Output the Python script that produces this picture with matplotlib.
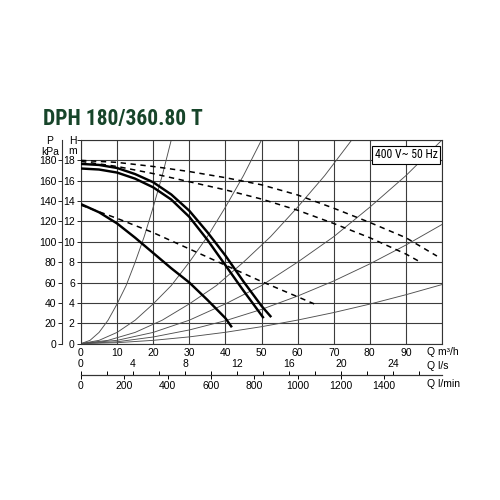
import matplotlib
matplotlib.use("Agg")
import matplotlib.pyplot as plt
from matplotlib import font_manager as fm

plt.rcParams['font.family'] = ['Liberation Sans', 'DejaVu Sans']

# ---- data (Q in m3/h, H in m) ----
# system (resistance) curves, thin
sysA_q = [0, 2.5, 5, 7.5, 10, 12.5, 15, 17.5, 20, 22.5, 25]
sysA_h = [0, 0.32, 1.1, 2.3, 3.9, 5.7, 8.0, 10.5, 13.4, 16.5, 20]
sysB_q = [0, 5, 10, 15, 20, 25, 30, 35, 40, 45, 50]
sysB_h = [0, 0.32, 1.1, 2.3, 3.9, 5.7, 8.0, 10.5, 13.4, 16.5, 20]
sysC_q = [0, 7.5, 15, 22.5, 30, 37.5, 45, 52.5, 60, 67.5, 75]
sysC_h = [0, 0.32, 1.1, 2.3, 3.9, 5.7, 8.0, 10.5, 13.4, 16.5, 20]
sysD_q = [0, 10, 20, 30, 40, 50, 60, 70, 80, 90, 100]
sysD_h = [0, 0.32, 1.1, 2.3, 3.9, 5.7, 8.0, 10.5, 13.4, 16.5, 20]
sysE_q = [0, 10, 20, 30, 40, 50, 60, 70, 80, 90, 100]
sysE_h = [0, 0.18, 0.65, 1.34, 2.25, 3.36, 4.67, 6.15, 7.83, 9.68, 11.7]
sysF_q = [0, 10, 20, 30, 40, 50, 60, 70, 80, 90, 100]
sysF_h = [0, 0.09, 0.32, 0.66, 1.11, 1.66, 2.31, 3.05, 3.88, 4.80, 5.8]

# pump curves, thick solid
pump1_q = [0, 5, 10, 15, 20, 25, 30, 35, 40, 45, 50, 52.7]
pump1_h = [17.65, 17.55, 17.25, 16.65, 15.85, 14.65, 13.05, 10.95, 8.65, 6.1, 3.7, 2.6]
pump2_q = [0, 5, 10, 15, 20, 25, 30, 35, 40, 45, 50.6]
pump2_h = [17.2, 17.1, 16.8, 16.2, 15.35, 14.15, 12.45, 10.2, 7.7, 5.2, 2.5]
pump3_q = [0, 5, 10, 15, 20, 25, 30, 35, 40, 41.8]
pump3_h = [13.7, 12.9, 11.8, 10.4, 8.9, 7.4, 6.0, 4.3, 2.5, 1.6]

# dashed curves
dash1_q = [0, 10, 20, 30, 40, 50, 60, 70, 80, 90, 98.6]
dash1_h = [18.0, 17.8, 17.4, 16.9, 16.3, 15.6, 14.6, 13.3, 11.9, 10.4, 8.6]
dash2_q = [0, 10, 20, 30, 40, 50, 60, 70, 80, 90, 93.8]
dash2_h = [17.9, 17.4, 16.7, 15.9, 15.1, 14.2, 13.1, 11.8, 10.4, 8.8, 8.05]
dash3_q = [0, 10, 20, 30, 40, 50, 60, 64.6]
dash3_h = [13.6, 12.3, 10.9, 9.3, 7.7, 6.1, 4.6, 3.9]

q_ticks = list(range(0, 101, 10))
q_labels = [str(v) for v in range(0, 100, 10)] + ['']
h_ticks = list(range(0, 21, 2))
h_labels = [str(v) for v in range(0, 20, 2)] + ['']
p_ticks = list(range(0, 181, 20))
ls_ticks = list(range(0, 25, 4))
ls_minor = list(range(2, 27, 4))
lmin_ticks = list(range(0, 1401, 200))

title = 'DPH 180/360.80 T'
legend_text = '400 V~ 50 Hz'


def pick_font(bold):
    """Pick a condensed/narrow font file if one is installed."""
    best = None
    best_score = -1
    for f in fm.fontManager.ttflist:
        nm = f.name.lower()
        fn = f.fname.lower()
        narrow = ('narrow' in nm or 'condensed' in nm or 'narrow' in fn
                  or 'condensed' in fn or f.stretch in ('condensed', 'semi-condensed'))
        if not narrow or 'italic' in fn or 'oblique' in fn or f.style != 'normal':
            continue
        w = f.weight if isinstance(f.weight, int) else (700 if 'bold' in str(f.weight) else 400)
        isbold = w >= 600 or 'bold' in fn
        if bold != isbold:
            continue
        if 'extrabold' in fn or 'black' in fn or 'light' in fn or 'thin' in fn:
            continue
        score = 1
        if 'liberation' in nm:
            score = 5
        elif 'roboto' in nm:
            score = 4
        elif 'open sans' in nm:
            score = 3
        elif 'dejavu' in nm:
            score = 2
        if score > best_score:
            best, best_score = f.fname, score
    return best


title_font = pick_font(True)
leg_font = pick_font(False)

FS = 7.5
fig = plt.figure(figsize=(5, 5), dpi=100)
ax = fig.add_axes([81 / 500, 1 - 343.6 / 500, 361 / 500, 203.6 / 500])
ax.set_xlim(0, 100)
ax.set_ylim(0, 20)
ax.set_xticks(q_ticks)
ax.set_xticklabels(q_labels)
ax.set_yticks(h_ticks)
ax.set_yticklabels(h_labels)
ax.grid(True, color='#3c3c3c', lw=0.8, zorder=0)
ax.set_axisbelow(True)
ax.tick_params(axis='x', length=0, pad=3, labelsize=FS)
ax.tick_params(axis='y', length=3, width=0.6, pad=1.5, labelsize=FS)
for s in ax.spines.values():
    s.set_linewidth(0.8)
    s.set_color('#333333')

thin = dict(color='#505050', lw=0.65, zorder=2)
for qs, hs in [(sysA_q, sysA_h), (sysB_q, sysB_h), (sysC_q, sysC_h),
               (sysD_q, sysD_h), (sysE_q, sysE_h), (sysF_q, sysF_h)]:
    ax.plot(qs, hs, **thin)

dash = dict(color='black', lw=1.1, ls=(0, (3.5, 3)), zorder=3)
for qs, hs in [(dash1_q, dash1_h), (dash2_q, dash2_h), (dash3_q, dash3_h)]:
    ax.plot(qs, hs, **dash)

thick = dict(color='black', lw=1.75, zorder=4, solid_capstyle='butt')
for qs, hs in [(pump1_q, pump1_h), (pump2_q, pump2_h), (pump3_q, pump3_h)]:
    ax.plot(qs, hs, **thick)

# P axis (kPa)
pax = ax.secondary_yaxis(-0.053, functions=(lambda h: h * 10, lambda p: p / 10))
pax.set_yticks(p_ticks)
pax.tick_params(axis='y', length=3, width=0.6, pad=1, labelsize=FS)
for s in pax.spines.values():
    s.set_linewidth(0.8)
    s.set_color('#333333')

# l/s axis (labels above line)
lsax = ax.secondary_xaxis(-0.154, functions=(lambda q: q / 3.6, lambda s: s * 3.6))
lsax.set_xticks(ls_ticks)
lsax.set_xticks(ls_minor, minor=True)
lsax.xaxis.set_ticks_position('top')
lsax.tick_params(axis='x', which='both', top=True, bottom=False, labeltop=True,
                 labelbottom=False, direction='out', length=3, width=0.7,
                 pad=1.0, labelsize=FS)
for s in lsax.spines.values():
    s.set_linewidth(0.8)
    s.set_color('#333333')

# l/min axis (labels below line)
lmax = ax.secondary_xaxis(-0.154, functions=(lambda q: q * 1000 / 60, lambda m: m * 60 / 1000))
lmax.set_xticks(lmin_ticks)
lmax.tick_params(axis='x', length=3, width=0.7, pad=1.5, labelsize=FS)
for s in lmax.spines.values():
    s.set_linewidth(0.8)
    s.set_color('#333333')

# axis titles
fig.text(427 / 500, 1 - 352 / 500, 'Q m³/h', ha='left', va='center', fontsize=FS)
fig.text(427 / 500, 1 - 366 / 500, 'Q l/s', ha='left', va='center', fontsize=FS)
fig.text(427 / 500, 1 - 384 / 500, 'Q l/min', ha='left', va='center', fontsize=FS)
fig.text(73 / 500, 1 - 141 / 500, 'H', ha='center', va='center', fontsize=FS)
fig.text(73 / 500, 1 - 151 / 500, 'm', ha='center', va='center', fontsize=FS)
fig.text(50 / 500, 1 - 141 / 500, 'P', ha='center', va='center', fontsize=FS)
fig.text(50 / 500, 1 - 152 / 500, 'kPa', ha='center', va='center', fontsize=FS)

if title_font:
    tprops = dict(fontproperties=fm.FontProperties(fname=title_font, size=18))
else:
    tprops = dict(fontsize=18, fontweight='bold')
t = fig.text(43 / 500, 1 - 119 / 500, title, ha='left', va='center',
             color='#17452a', **tprops)

if leg_font:
    lprops = dict(fontproperties=fm.FontProperties(fname=leg_font, size=8.5))
else:
    lprops = dict(fontsize=7)
lt = fig.text(406 / 500, 1 - 155 / 500, legend_text, ha='center', va='center',
              zorder=10,
              bbox=dict(boxstyle='square,pad=0.22', fc='white', ec='black', lw=0.8),
              **lprops)

# fit title width to the reference (about 160 px wide)
fig.canvas.draw()
w = t.get_window_extent().width
if w > 165:
    t.set_fontsize(18 * 160 / w)

fig.savefig('out.png', dpi=100, facecolor='white')
